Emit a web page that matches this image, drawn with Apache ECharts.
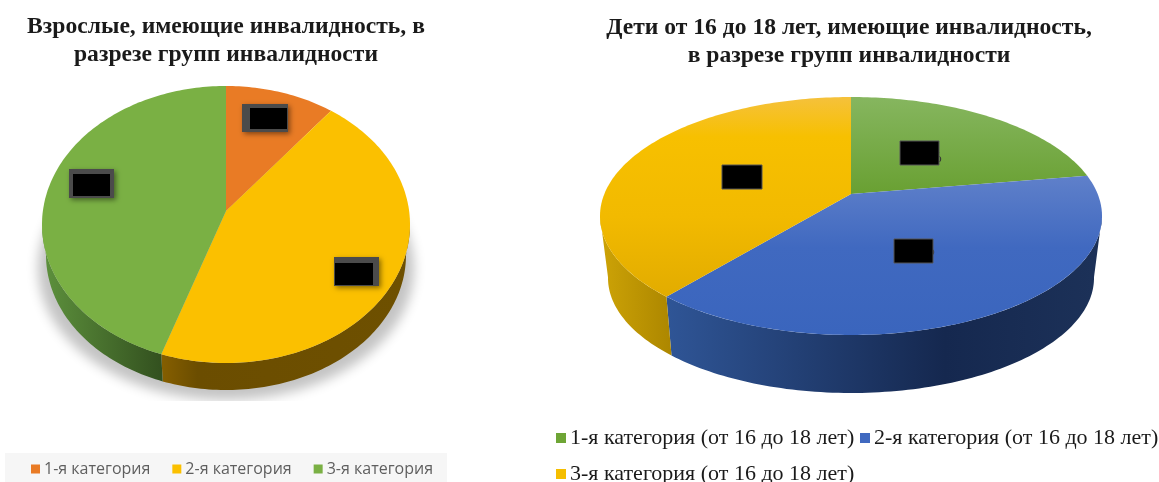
<!DOCTYPE html>
<html>
<head>
    <meta charset="utf-8">
    <title>Инвалидность</title>
    <script src="https://cdn.jsdelivr.net/npm/echarts@6/dist/echarts.min.js"></script>
    <style>
        body, html {
            height: 100%;
            margin: 0;
            background: #fff;
        }

        #main {
            width: 1159px;
            height: 482px;
            filter: blur(0.5px);
        }
    </style>
</head>
<body>
<div id="main"></div>
<script type="text/javascript">
    // shares (the labels are blacked out in the original)
    var adultNames = ['1-я категория', '2-я категория', '3-я категория'];
    var adultValues = [10.6, 44.6, 44.8];
    var adultColors = ['#E97B25', '#FBC000', '#7AB044'];

    var childNames = ['1-я категория (от 16 до 18 лет)', '2-я категория (от 16 до 18 лет)', '3-я категория (от 16 до 18 лет)'];
    var childValues = [22.4, 38.7, 38.9];
    var childColors = ['#6EA535', '#4069C0', '#F5BE00'];

    var serif = '"Liberation Serif", "Times New Roman", serif';

    // perspective ellipse of the pie: apexDy is how far the apex sits above the ellipse centre
    var adultTop = {cx: 226, cy: 224.5, rx: 184, ry: 138.5, apexDy: -13.5};
    var adultBottom = {cx: 226, cy: 255, rx: 180, ry: 135, apexDy: -13};
    var childTop = {cx: 851, cy: 216, rx: 251, ry: 119, apexDy: -22};
    var childBottom = {cx: 851, cy: 278, rx: 243, ry: 115, apexDy: -22};

    function vertical(y0, y1, stops) {
        return {type: 'linear', x: 0, y: y0, x2: 0, y2: y1, global: true, colorStops: stops};
    }

    function horizontal(x0, x1, stops) {
        return {type: 'linear', x: x0, y: 0, x2: x1, y2: 0, global: true, colorStops: stops};
    }

    var adultFaces = adultColors;
    var adultWalls = [
        '#9c5418',
        horizontal(161, 405, [{offset: 0, color: '#865f00'}, {offset: 0.15, color: '#6b4d00'}, {offset: 1, color: '#6e5000'}]),
        horizontal(46, 161, [{offset: 0, color: '#5c8f3c'}, {offset: 1, color: '#33511f'}])
    ];
    var childFaces = [
        vertical(97, 194, [{offset: 0, color: '#86b65f'}, {offset: 1, color: '#69a032'}]),
        vertical(176, 335, [{offset: 0, color: '#5f80ca'}, {offset: 0.45, color: '#4069c0'}, {offset: 1, color: '#3a65bd'}]),
        vertical(97, 296, [{offset: 0, color: '#f5c13c'}, {offset: 0.2, color: '#f7c000'}, {offset: 0.6, color: '#f2ba00'}, {offset: 1, color: '#e2ac00'}])
    ];
    var childWalls = [
        '#4c7524',
        horizontal(667, 1094, [{offset: 0, color: '#2f5596'}, {offset: 0.65, color: '#15284f'}, {offset: 1, color: '#1c3158'}]),
        horizontal(601, 670, [{offset: 0, color: '#cda306'}, {offset: 1, color: '#ad8700'}])
    ];

    function project(g, theta) {
        var x = Math.sin(theta);
        var y = -Math.cos(theta);
        var c = g.apexDy / g.ry;
        var w = 1 + c * y;
        return [g.cx + g.rx * Math.sqrt(1 - c * c) * x / w, g.cy + (g.ry * y + g.apexDy) / w];
    }

    function arc(g, from, to) {
        var pts = [];
        var n = Math.ceil((to - from) / 0.02);
        for (var i = 0; i <= n; i++) {
            pts.push(project(g, from + (to - from) * i / n));
        }
        return pts;
    }

    function sliceSeries(names, values, colors, faces, walls, top, bottom) {
        var total = values.reduce(function (a, b) { return a + b; }, 0);
        // only the front of the rim is seen, between the two widest points of the ellipse
        var frontFrom = Math.acos(top.apexDy / top.ry);
        var frontTo = Math.PI * 2 - frontFrom;
        var start = 0;
        return names.map(function (name, i) {
            var from = start / total * Math.PI * 2;
            start += values[i];
            var to = start / total * Math.PI * 2;
            return {
                type: 'custom',
                name: name,
                coordinateSystem: 'none',
                silent: true,
                animation: false,
                itemStyle: {color: colors[i]},
                data: [[values[i]]],
                renderItem: function () {
                    var children = [];
                    var a = Math.max(from, frontFrom);
                    var b = Math.min(to, frontTo);
                    if (b > a) {
                        children.push({
                            type: 'polygon', z2: 1,
                            shape: {points: arc(top, a, b).concat(arc(bottom, a, b).reverse())},
                            style: {fill: walls[i]}
                        });
                    }
                    children.push({
                        type: 'polygon', z2: 10,
                        shape: {points: [[top.cx, top.cy + top.apexDy]].concat(arc(top, from, to))},
                        style: {fill: faces[i]}
                    });
                    return {type: 'group', children: children};
                }
            };
        });
    }

    function box(x, y, w, h, inner) {
        // blacked-out data label
        var parts = [];
        if (inner) {
            parts.push({
                type: 'rect', z: 20, shape: {x: x, y: y, width: w, height: h},
                style: {fill: '#4b4b4b', shadowBlur: 5, shadowColor: 'rgba(0,0,0,.45)', shadowOffsetX: 2, shadowOffsetY: 2}
            });
            parts.push({type: 'rect', z: 21, shape: inner, style: {fill: '#000'}});
        } else {
            parts.push({type: 'rect', z: 20, shape: {x: x, y: y, width: w, height: h}, style: {fill: '#000', stroke: '#555', lineWidth: 1}});
        }
        return parts;
    }

    function childLegend(names, left, top) {
        return {
            data: names, left: left, top: top, padding: 0, itemWidth: 10, itemHeight: 10,
            icon: 'rect', selectedMode: false,
            textStyle: {fontFamily: serif, fontSize: 22, color: '#1a1a1a', padding: [0, 0, 0, -1]}
        };
    }

    var myChart = echarts.init(document.getElementById('main'));

    var titleStyle = {fontFamily: serif, fontSize: 23.6, fontWeight: 'bold', lineHeight: 28, color: '#1a1a1a'};

    myChart.setOption({
        backgroundColor: '#fff',
        animation: false,
        title: [
            {
                text: 'Взрослые, имеющие инвалидность, в\nразрезе групп инвалидности',
                left: 226, top: 13, textAlign: 'center', padding: 0, textStyle: titleStyle
            },
            {
                text: 'Дети от 16 до 18 лет, имеющие инвалидность,\nв разрезе групп инвалидности',
                left: 849, top: 14, textAlign: 'center', padding: 0, textStyle: titleStyle
            }
        ],
        legend: [
            {
                data: adultNames, left: 31, top: 461, padding: 0, itemGap: 22, itemWidth: 9, itemHeight: 9,
                icon: 'rect', selectedMode: false,
                textStyle: {fontFamily: '"Open Sans", sans-serif', fontSize: 16, color: '#5f5f5f', padding: [0, 0, 0, -1]}
            },
            childLegend(childNames.slice(0, 1), 556, 427),
            childLegend(childNames.slice(1, 2), 860, 427),
            childLegend(childNames.slice(2), 556, 463)
        ],
        graphic: {
            elements: [
                // drawn off the page so that only its soft shadow lands under the pie
                {
                    type: 'ellipse', z: -1, shape: {cx: -1774, cy: 268, rx: 188, ry: 132},
                    style: {fill: '#c4c4c4', shadowBlur: 12, shadowColor: '#c4c4c4', shadowOffsetX: 2000}
                },
                {type: 'rect', z: -1, shape: {x: 0, y: 401, width: 460, height: 52}, style: {fill: '#fff'}},
                {type: 'rect', z: -1, shape: {x: 5, y: 453, width: 442, height: 29}, style: {fill: '#f6f6f6'}},
                {type: 'text', z: 15, style: {x: 930, y: 151, text: '%', fill: '#333', font: '14px ' + serif}},
                {type: 'text', z: 15, style: {x: 923, y: 244, text: '%', fill: '#333', font: '14px ' + serif}}
            ].concat(
                box(242, 104, 46, 28, {x: 250, y: 108, width: 37, height: 21}),
                box(69, 169, 45, 29, {x: 73, y: 174, width: 37, height: 22}),
                box(334, 257, 45, 29, {x: 335, y: 263, width: 38, height: 22}),
                box(900, 141, 39, 24),
                box(722, 165, 40, 24),
                box(894, 239, 39, 24)
            )
        },
        series: sliceSeries(adultNames, adultValues, adultColors, adultFaces, adultWalls, adultTop, adultBottom)
            .concat(sliceSeries(childNames, childValues, childColors, childFaces, childWalls, childTop, childBottom))
    });
</script>
</body>
</html>
